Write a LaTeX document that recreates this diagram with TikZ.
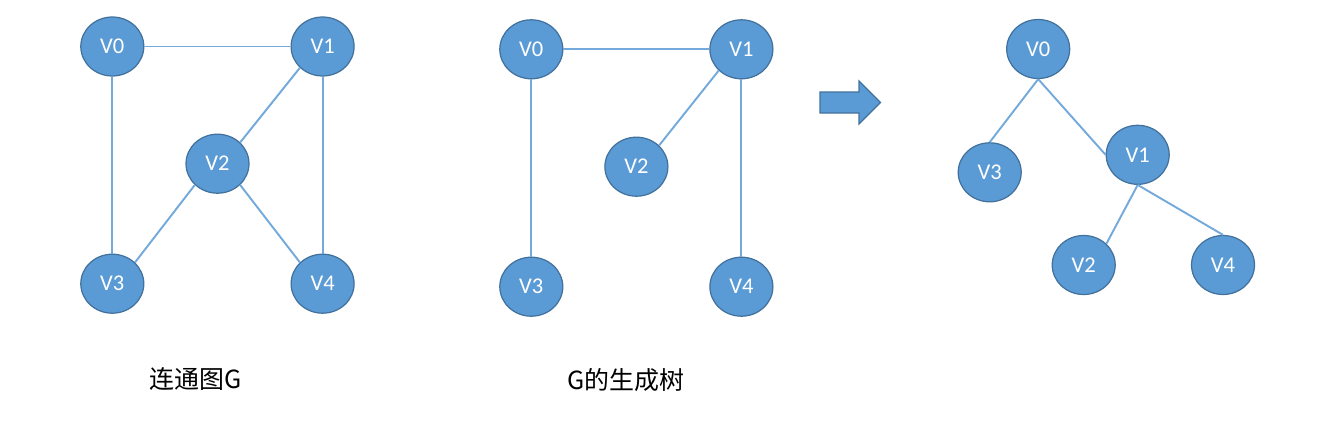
\documentclass[tikz,border=0pt]{standalone}
\usepackage{fontspec}
\setmainfont{Carlito}
\newfontfamily\cjk{Noto Sans CJK SC}
\usetikzlibrary{shapes.geometric}
\definecolor{nodeblue}{HTML}{5B9BD5}
\definecolor{edgeblue}{HTML}{41719C}
\tikzset{
  vertex/.style={ellipse,draw=edgeblue,fill=nodeblue,line width=.7pt,text=white,inner sep=0pt,
    minimum width=1.26cm,minimum height=1.18cm,font=\fontsize{12.8}{14}\selectfont},
  link/.style={draw=nodeblue!85!white,line width=1.1pt},
  caption/.style={font=\cjk\fontsize{14.2}{16}\selectfont,text=black,inner sep=0pt}
}
\begin{document}
\begin{tikzpicture}[x=.02cm,y=-.02cm]
\useasboundingbox (0,0) rectangle (1325,436);
% connected graph
\node[vertex] (a0) at (112.3,46.5)  {V0};
\node[vertex] (a1) at (322.6,46.5)  {V1};
\node[vertex] (a2) at (217.5,163.7) {V2};
\node[vertex] (a3) at (112.3,283.7) {V3};
\node[vertex] (a4) at (322.6,283.7) {V4};
\draw[link] (a0) -- (a1);
\draw[link] (a0) -- (a3);
\draw[link] (a1.south west) -- (a2.north east);
\draw[link] (a1) -- (a4);
\draw[link] (a2.south west) -- (a3.north east);
\draw[link] (a2.south east) -- (a4.north west);
\node[caption] (capa) at (195.5,379) {连通图G};
% spanning tree
\node[vertex] (b0) at (531.3,49.3)  {V0};
\node[vertex] (b1) at (741.4,49.3)  {V1};
\node[vertex] (b2) at (636.4,166.7) {V2};
\node[vertex] (b3) at (531.3,286.7) {V3};
\node[vertex] (b4) at (741.4,286.7) {V4};
\draw[link] (b0) -- (b1);
\draw[link] (b0) -- (b3);
\draw[link] (b1.south west) -- (b2.north east);
\draw[link] (b1) -- (b4);
\node[caption] (capb) at (625.5,380) {G的生成树};
% arrow
\draw[draw=edgeblue,fill=nodeblue,line width=.7pt] (820,92) -- (859,92) -- (859,81) -- (880.5,102.5)
  -- (859,124) -- (859,113) -- (820,113) -- cycle;
% redrawn as a tree
\node[vertex] (c0) at (1038.2,49)  {V0};
\node[vertex] (c1) at (1137.7,154.8) {V1};
\node[vertex] (c2) at (1083.7,265) {V2};
\node[vertex] (c3) at (989.7,172.3)  {V3};
\node[vertex] (c4) at (1223,265) {V4};
\draw[link] (c0.south) -- (c3.north);
\draw[link] (c0.south) -- (c1.west);
\draw[link] (c1.south) -- (c2.north east);
\draw[link] (c1.south) -- (c4.north);
\end{tikzpicture}
\end{document}
